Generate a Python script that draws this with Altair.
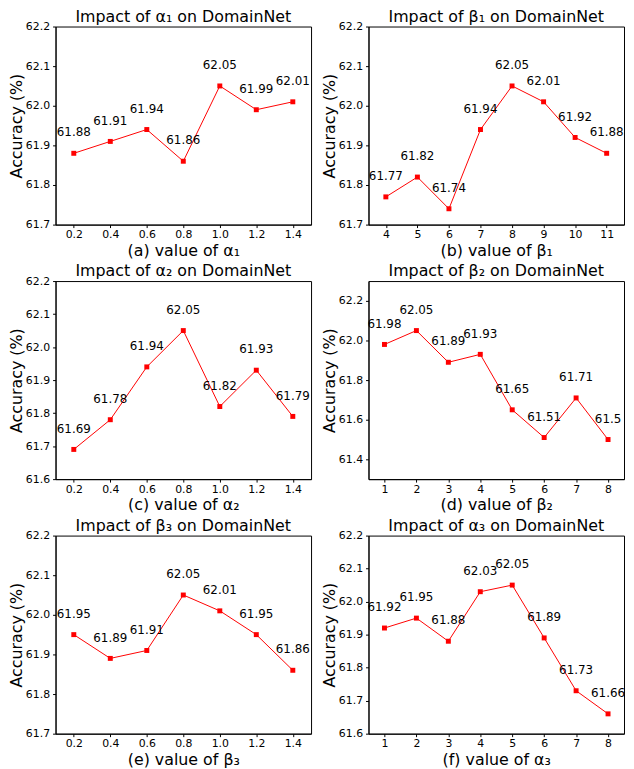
import altair as alt
import pandas as pd

FONT = "DejaVu Sans"

# ---- data ----
alpha_x = [0.2, 0.4, 0.6, 0.8, 1.0, 1.2, 1.4]
beta1_x = [4, 5, 6, 7, 8, 9, 10, 11]
int_x = [1, 2, 3, 4, 5, 6, 7, 8]

a_vals = [61.88, 61.91, 61.94, 61.86, 62.05, 61.99, 62.01]
b_vals = [61.77, 61.82, 61.74, 61.94, 62.05, 62.01, 61.92, 61.88]
c_vals = [61.69, 61.78, 61.94, 62.05, 61.82, 61.93, 61.79]
d_vals = [61.98, 62.05, 61.89, 61.93, 61.65, 61.51, 61.71, 61.5]
e_vals = [61.95, 61.89, 61.91, 62.05, 62.01, 61.95, 61.86]
f_vals = [61.92, 61.95, 61.88, 62.03, 62.05, 61.89, 61.73, 61.66]

yt_a = [61.7, 61.8, 61.9, 62.0, 62.1, 62.2]
yt_c = [61.6, 61.7, 61.8, 61.9, 62.0, 62.1, 62.2]
yt_d = [61.4, 61.6, 61.8, 62.0, 62.2]

panels_spec = [
    ("Impact of α₁ on DomainNet", "(a) value of α₁", alpha_x, a_vals, [0.1, 1.5], [61.7, 62.2], yt_a, ".1f"),
    ("Impact of β₁ on DomainNet", "(b) value of β₁", beta1_x, b_vals, [3.45, 11.55], [61.7, 62.2], yt_a, "d"),
    ("Impact of α₂ on DomainNet", "(c) value of α₂", alpha_x, c_vals, [0.1, 1.5], [61.6, 62.2], yt_c, ".1f"),
    ("Impact of β₂ on DomainNet", "(d) value of β₂", int_x, d_vals, [0.5, 8.5], [61.3, 62.3], yt_d, "d"),
    ("Impact of β₃ on DomainNet", "(e) value of β₃", alpha_x, e_vals, [0.1, 1.5], [61.7, 62.2], yt_a, ".1f"),
    ("Impact of α₃ on DomainNet", "(f) value of α₃", int_x, f_vals, [0.5, 8.5], [61.6, 62.2], yt_c, "d"),
]

W, H = 258, 200

charts = []
for title, xtitle, xs, ys, xd, yd, yt, fmt in panels_spec:
    df = pd.DataFrame({"x": xs, "y": ys, "label": [str(v) for v in ys]})
    base = alt.Chart(df).encode(
        x=alt.X("x:Q", scale=alt.Scale(domain=xd, nice=False, zero=False),
                axis=alt.Axis(values=xs, format=fmt, title=xtitle, grid=False)),
        y=alt.Y("y:Q", scale=alt.Scale(domain=yd, nice=False, zero=False),
                axis=alt.Axis(values=yt, format=".1f", title="Accuracy (%)", grid=False)),
    )
    line = base.mark_line(color="#ff0000", strokeWidth=1)
    pts = base.mark_square(color="#ff0000", size=25, opacity=1)
    txt = base.mark_text(dy=-21, fontSize=12, font=FONT, color="black").encode(text="label:N")
    ttl = alt.Chart(pd.DataFrame({"t": [title]})).mark_text(
        fontSize=16, font=FONT, color="black", align="center", baseline="alphabetic"
    ).encode(text="t:N", x=alt.value(W / 2), y=alt.value(-5))
    ch = alt.layer(line, pts, txt, ttl).properties(width=W, height=H)
    charts.append(ch)

chart = alt.concat(*charts, columns=2, spacing={"row": 3, "column": 9}).properties(
    padding={"left": 0, "top": -4, "right": 0, "bottom": 0}
).configure_view(stroke="black", strokeWidth=1).configure_axis(
    tickSize=3, labelFontSize=11, labelFont=FONT, labelColor="black",
    titleFontSize=16, titleFont=FONT, titleFontWeight="normal", titleColor="black",
    domainColor="black", tickColor="black", domainWidth=1, tickWidth=1,
).configure_axisX(labelPadding=1, titlePadding=3).configure_axisY(labelPadding=3, titlePadding=1)

chart.save("out.html", embed_options={"renderer": "svg", "actions": False})
